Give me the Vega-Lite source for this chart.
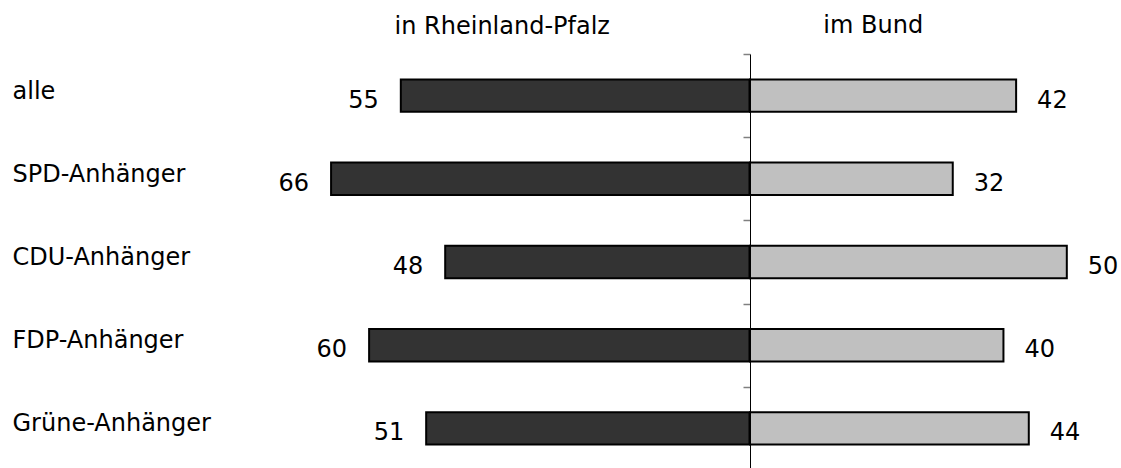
{
  "$schema": "https://vega.github.io/schema/vega-lite/v6.json",
  "padding": {"left": 12, "top": 14, "right": 0, "bottom": 0},
  "background": "white",
  "bounds": "flush",
  "config": {"view": {"stroke": null}},
  "data": {"values": [
    {"gruppe": "alle", "rp": 55, "bund": 42},
    {"gruppe": "SPD-Anhänger", "rp": 66, "bund": 32},
    {"gruppe": "CDU-Anhänger", "rp": 48, "bund": 50},
    {"gruppe": "FDP-Anhänger", "rp": 60, "bund": 40},
    {"gruppe": "Grüne-Anhänger", "rp": 51, "bund": 44}
  ]},
  "spacing": 0,
  "hconcat": [
    {
      "width": 494.5,
      "height": 416,
      "title": {"text": "in Rheinland-Pfalz", "frame": "group", "anchor": "middle", "baseline": "alphabetic", "offset": -4, "fontSize": 24, "font": "DejaVu Sans", "fontWeight": "normal", "color": "#000000"},
      "encoding": {
        "y": {"field": "gruppe", "type": "nominal", "sort": null,
          "scale": {"paddingInner": 0, "paddingOuter": 0},
          "axis": {"title": null, "orient": "left", "domain": false, "ticks": false, "labelAlign": "left", "labelPadding": 243, "labelBaseline": "alphabetic", "labelOffset": 3, "labelFont": "DejaVu Sans", "labelFontSize": 24, "labelColor": "#000000", "labelLimit": 0}},
        "x": {"field": "rp", "type": "quantitative", "scale": {"domain": [0, 78], "reverse": true, "nice": false, "zero": true}, "axis": null}
      },
      "layer": [
        {"mark": {"type": "bar", "fill": "#333333", "stroke": "#000000", "strokeWidth": 2, "height": {"band": 0.39}}},
        {"mark": {"type": "text", "align": "right", "baseline": "middle", "dx": -22, "dy": 5, "fontSize": 24, "font": "DejaVu Sans", "color": "#000000"},
         "encoding": {"text": {"field": "rp", "type": "quantitative"}}}
      ]
    },
    {
      "width": 367.5,
      "height": 416,
      "title": {"text": "im Bund", "frame": "group", "anchor": "middle", "baseline": "alphabetic", "offset": -4, "dx": -60.5, "fontSize": 24, "font": "DejaVu Sans", "fontWeight": "normal", "color": "#000000"},
      "encoding": {
        "y": {"field": "gruppe", "type": "nominal", "sort": null,
          "scale": {"paddingInner": 0, "paddingOuter": 0},
          "axis": {"title": null, "orient": "left", "labels": false, "domain": true, "domainColor": "#000000", "domainWidth": 1, "ticks": true, "tickBand": "extent", "tickSize": 7, "tickColor": "#808080", "tickWidth": 1.5}},
        "x": {"field": "bund", "type": "quantitative", "scale": {"domain": [0, 58], "nice": false, "zero": true}, "axis": null}
      },
      "layer": [
        {"mark": {"type": "bar", "fill": "#c0c0c0", "stroke": "#000000", "strokeWidth": 2, "height": {"band": 0.39}}},
        {"mark": {"type": "text", "align": "left", "baseline": "middle", "dx": 21, "dy": 5, "fontSize": 24, "font": "DejaVu Sans", "color": "#000000"},
         "encoding": {"text": {"field": "bund", "type": "quantitative"}}}
      ]
    }
  ]
}
